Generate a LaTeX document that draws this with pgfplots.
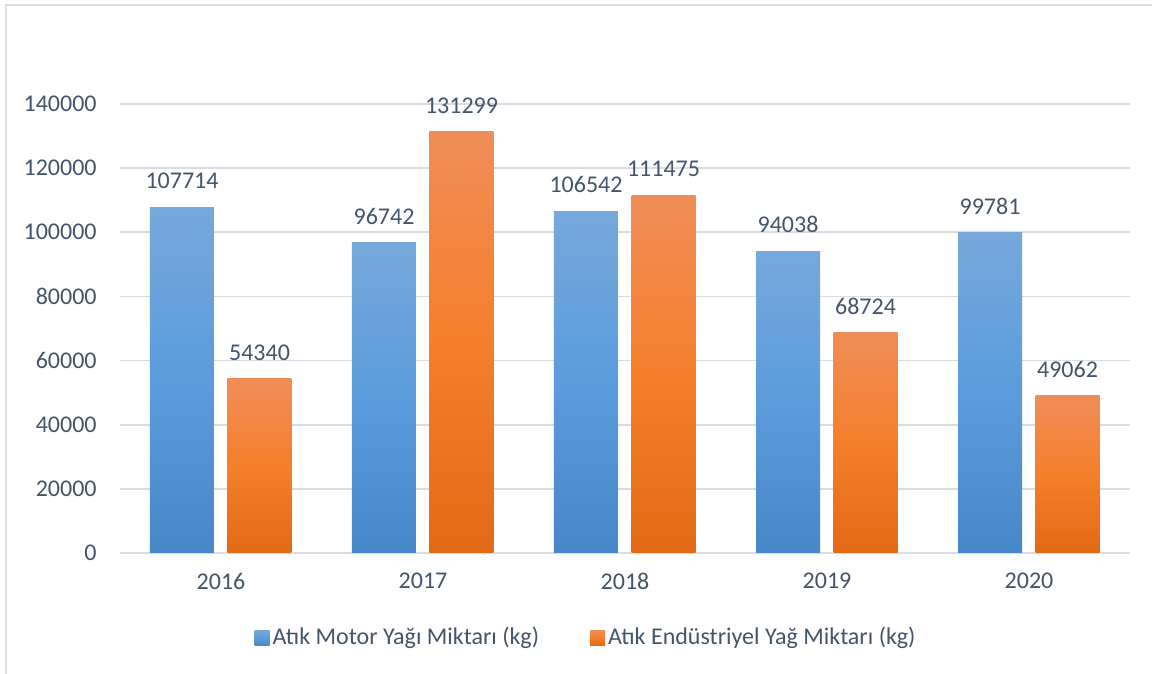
\documentclass[border=0pt]{standalone}
\usepackage{fontspec}
\setmainfont{Carlito}
\usepackage{pgfplots}
\pgfplotsset{compat=1.18}

\definecolor{txt}{HTML}{44546A}
\definecolor{gridc}{HTML}{D9DDE3}
\definecolor{framec}{HTML}{DDE1E6}
\definecolor{bt}{HTML}{76A8DB}
\definecolor{bm}{HTML}{5A9CDC}
\definecolor{bb}{HTML}{4587C7}
\definecolor{ot}{HTML}{F08D58}
\definecolor{om}{HTML}{F57F2B}
\definecolor{ob}{HTML}{E46916}

\pgfplotsset{
  motor/.style={ybar, bar width=32pt, bar shift=-19.5pt, draw=none,
    top color=bt, bottom color=bb, middle color=bm, forget plot,
    nodes near coords style={xshift=-19.5pt}},
  endus/.style={ybar, bar width=32pt, bar shift=19.25pt, draw=none,
    top color=ot, bottom color=ob, middle color=om, forget plot,
    nodes near coords style={xshift=19.25pt}},
}

\begin{document}
\begin{tikzpicture}
\fontsize{12}{14}\selectfont
\path[use as bounding box] (-60pt,-60.5pt) rectangle (516pt,276.5pt);
\draw[framec, line width=1pt] (-56.75pt,-70pt) -- (-56.75pt,274pt) -- (530pt,274pt);
\begin{axis}[
  at={(0,0)}, anchor=south west,
  scale only axis, width=505pt, height=224.5pt,
  xmin=-0.5, xmax=4.5, ymin=0, ymax=140000,
  xtick={0,1,2,3,4}, xticklabels={2016,2017,2018,2019,2020},
  ytick={0,20000,40000,60000,80000,100000,120000,140000},
  scaled y ticks=false,
  /pgf/number format/.cd, fixed, precision=0, 1000 sep={}, assume math mode=true,
  /pgfplots/.cd,
  axis line style={draw=none},
  major tick length=0pt,
  ymajorgrids, xmajorgrids=false,
  grid style={draw=gridc, line width=0.9pt},
  tick label style={font=\fontsize{12}{14}\selectfont, text=txt},
  yticklabel style={xshift=-7.5pt},
  xticklabel style={yshift=-6pt},
  nodes near coords,
  nodes near coords style={font=\fontsize{12}{14}\selectfont, text=txt, anchor=south, yshift=5pt},
  legend columns=2,
  legend style={at={(0.462,-0.189)}, anchor=center, draw=none, fill=none,
    font=\fontsize{12}{14}\selectfont, text=txt,
    /tikz/every even column/.append style={column sep=24pt},
    nodes={inner sep=1.5pt}},
  legend cell align=left,
]
\addlegendimage{legend image code/.code={\path[draw=none,top color=bt,bottom color=bb,middle color=bm] (0pt,-3.75pt) rectangle (7.5pt,3.75pt);}}
\addlegendentry{Atık Motor Yağı Miktarı (kg)}
\addlegendimage{legend image code/.code={\path[draw=none,top color=ot,bottom color=ob,middle color=om] (0pt,-3.75pt) rectangle (7.5pt,3.75pt);}}
\addlegendentry{Atık Endüstriyel Yağ Miktarı (kg)}

% Atık Motor Yağı Miktarı (kg)
\addplot[motor] coordinates {(0,107714)};
\addplot[motor] coordinates {(1,96742)};
\addplot[motor] coordinates {(2,106542)};
\addplot[motor] coordinates {(3,94038)};
\addplot[motor] coordinates {(4,99781)};
% Atık Endüstriyel Yağ Miktarı (kg)
\addplot[endus] coordinates {(0,54340)};
\addplot[endus] coordinates {(1,131299)};
\addplot[endus] coordinates {(2,111475)};
\addplot[endus] coordinates {(3,68724)};
\addplot[endus] coordinates {(4,49062)};
\end{axis}
\end{tikzpicture}
\end{document}
